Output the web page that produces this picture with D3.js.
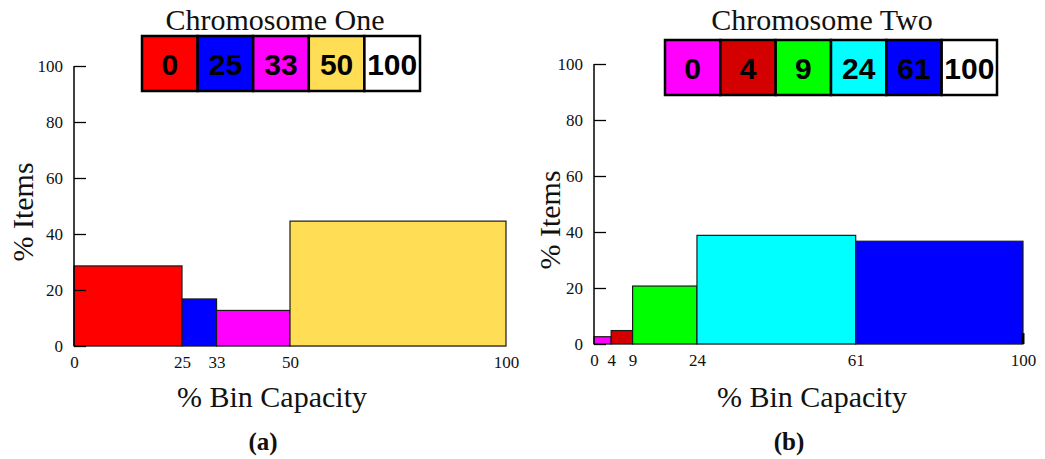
<!DOCTYPE html>
<html>
<head>
<meta charset="utf-8">
<script src="https://cdn.jsdelivr.net/npm/d3@7"></script>
<style>
  body { margin: 0; background: #fff; }
  svg { display: block; }
</style>
</head>
<body>
<svg id="chart" width="1045" height="459"></svg>
<script>
// Данные: границы интервалов (% заполнения бина) и доля предметов
const yTicks = [0, 20, 40, 60, 80, 100];

const chr1Title = "Chromosome One";
const chr1Breaks = [0, 25, 33, 50, 100];
const chr1Values = [28.6, 16.8, 12.7, 44.6];
const chr1Colors = ["#ff0000", "#0000ff", "#ff00ff", "#ffdd55", "#ffffff"];

const chr2Title = "Chromosome Two";
const chr2Breaks = [0, 4, 9, 24, 61, 100];
const chr2Values = [2.6, 4.8, 20.7, 38.8, 36.7];
const chr2EndValue = 3.9; // маленькая черта на отметке 100
const chr2Colors = ["#ff00ff", "#d40000", "#00ff00", "#00ffff", "#0000ff", "#ffffff"];

const SERIF = '"Liberation Serif", "DejaVu Serif", "Times New Roman", serif';
const SANS = '"Liberation Sans", Arial, sans-serif';

const svg = d3.select("#chart");

function serifText(sel, size) {
    return sel.style("font-family", SERIF).style("font-size", size + "px").attr("fill", "#111");
}

function drawPanel(o) {
    const x = d3.scaleLinear().domain([0, 100]).range([o.x0, o.x1]);
    const y = d3.scaleLinear().domain([0, 100]).range([o.y0, o.y1]);
    const g = svg.append("g");

    // базовая линия
    g.append("line")
        .attr("x1", x(0)).attr("x2", x(100))
        .attr("y1", y(0)).attr("y2", y(0))
        .attr("stroke", "#aaa").attr("stroke-width", 1);

    // столбцы
    const bins = o.values.map((v, i) => ({ a: o.breaks[i], b: o.breaks[i + 1], v: v, c: o.colors[i] }));
    g.selectAll("rect.bar").data(bins).enter().append("rect")
        .attr("class", "bar")
        .attr("x", d => x(d.a))
        .attr("y", d => y(d.v))
        .attr("width", d => x(d.b) - x(d.a))
        .attr("height", d => y(0) - y(d.v))
        .attr("fill", d => d.c)
        .attr("stroke", "#1a1a1a")
        .attr("stroke-width", 1.2);

    if (o.endValue) {
        g.append("line")
            .attr("x1", x(100)).attr("x2", x(100))
            .attr("y1", y(0)).attr("y2", y(o.endValue))
            .attr("stroke", "#000").attr("stroke-width", 3);
    }

    // ось Y
    const yAxis = d3.axisRight(y).tickValues(yTicks).tickSize(12).tickFormat(d3.format("d"));
    const ya = g.append("g").attr("transform", `translate(${x(0)},0)`).call(yAxis);
    ya.select(".domain").attr("stroke", "#000").attr("stroke-width", 1.5)
        .attr("d", `M0,${y(0)}V${y(100)}`);
    ya.selectAll(".tick line").attr("stroke", "#000").attr("stroke-width", 1.3);
    serifText(ya.selectAll(".tick text"), 17)
        .attr("x", -11).attr("dy", "0.32em")
        .attr("text-anchor", "end");

    // ось X (только подписи)
    const xAxis = d3.axisBottom(x).tickValues(o.breaks).tickSize(0).tickFormat(d3.format("d"));
    const xa = g.append("g").attr("transform", `translate(0,${y(0)})`).call(xAxis);
    xa.select(".domain").remove();
    serifText(xa.selectAll(".tick text"), 17)
        .attr("y", 22).attr("dy", 0);

    // подписи осей
    serifText(g.append("text"), 30)
        .attr("x", o.xLabelX).attr("y", 407)
        .attr("text-anchor", "middle")
        .text("% Bin Capacity");

    serifText(g.append("text"), 30)
        .attr("transform", `translate(${o.yLabelX},${o.yLabelY}) rotate(-90)`)
        .attr("text-anchor", "middle")
        .text("% Items");

    // заголовок
    serifText(g.append("text"), 30)
        .attr("x", o.titleX).attr("y", 30)
        .attr("text-anchor", "middle")
        .text(o.title);

    // легенда-хромосома
    const bw = o.legendW / o.breaks.length;
    const cells = g.append("g").selectAll("g").data(o.breaks).enter().append("g")
        .attr("transform", (d, i) => `translate(${o.legendX + i * bw},${o.legendY})`);
    cells.append("rect")
        .attr("width", bw).attr("height", o.legendH)
        .attr("fill", (d, i) => o.colors[i])
        .attr("stroke", "#000").attr("stroke-width", 2.5);
    cells.append("text")
        .attr("x", bw / 2).attr("y", o.legendH / 2 + 1)
        .attr("text-anchor", "middle")
        .attr("dy", "0.36em")
        .style("font-family", SANS).style("font-weight", "bold").style("font-size", "30px")
        .attr("fill", "#000")
        .text(d => d);

    // подпись панели
    serifText(g.append("text"), 25)
        .attr("x", o.capX).attr("y", 450)
        .attr("text-anchor", "middle")
        .style("font-weight", "bold")
        .text(o.caption);
}

drawPanel({
    title: chr1Title, breaks: chr1Breaks, values: chr1Values, colors: chr1Colors,
    x0: 74, x1: 506, y0: 346, y1: 66,
    xLabelX: 272, yLabelX: 33, yLabelY: 212, titleX: 275,
    legendX: 142, legendY: 36, legendW: 278, legendH: 55,
    capX: 263, caption: "(a)"
});

drawPanel({
    title: chr2Title, breaks: chr2Breaks, values: chr2Values, colors: chr2Colors,
    endValue: chr2EndValue,
    x0: 594, x1: 1023, y0: 344, y1: 64,
    xLabelX: 812, yLabelX: 560, yLabelY: 220, titleX: 822,
    legendX: 665, legendY: 40, legendW: 332, legendH: 55,
    capX: 789, caption: "(b)"
});
</script>
</body>
</html>
